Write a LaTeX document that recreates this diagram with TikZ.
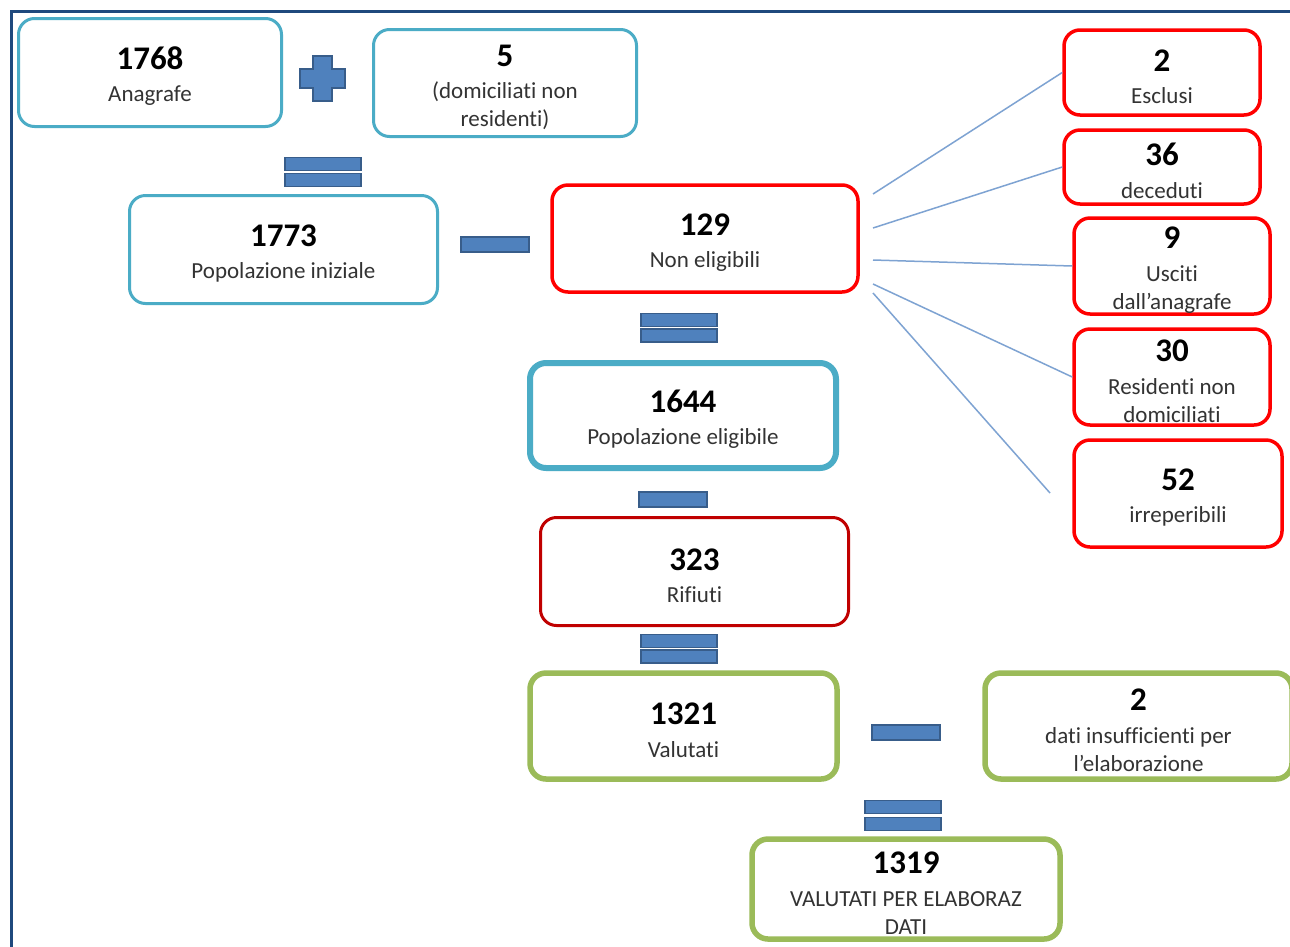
\documentclass[tikz,border=0pt]{standalone}
\usepackage{fontspec}
\setmainfont{Carlito}[Ligatures=NoCommon]
\usetikzlibrary{positioning}

\definecolor{boxcyan}{HTML}{4BACC6}
\definecolor{boxred}{HTML}{FF0000}
\definecolor{boxdarkred}{HTML}{C00000}
\definecolor{boxgreen}{HTML}{9BBB59}
\definecolor{opfill}{HTML}{4F81BD}
\definecolor{opedge}{HTML}{385D8A}
\definecolor{linkblue}{HTML}{7EA3D2}
\definecolor{framblue}{HTML}{1F497D}
\definecolor{labelgray}{HTML}{333333}

\newcommand{\nm}[1]{{\fontsize{33}{33}\selectfont\bfseries\color{black}\rule{0pt}{30pt}#1}\\[4.5pt]}

\begin{document}
\begin{tikzpicture}
    [
    x=1pt, y=-1pt,
    box/.style={draw, rounded corners=16pt, line width=3pt, fill=white, align=center,
        inner sep=0pt, text=labelgray, font=\fontsize{23}{28}\selectfont},
    cyanbox/.style={box, draw=boxcyan},
    redbox/.style={box, draw=boxred, line width=3.5pt},
    darkredbox/.style={box, draw=boxdarkred},
    greenbox/.style={box, draw=boxgreen, line width=5.5pt},
    opbar/.style={draw=opedge, fill=opfill, line width=1.2pt, inner sep=0pt,
        minimum width=76pt, minimum height=13pt},
    minusbar/.style={opbar, minimum width=68pt, minimum height=15pt},
    link/.style={draw=linkblue, line width=1.5pt}
    ]

    \fill[white] (0,0) rectangle (1290,946);
    \useasboundingbox (0,0) rectangle (1290,946);
    \draw[framblue, line width=3pt] (11.5,960) -- (11.5,11.5) -- (1300,11.5);

    % main column
    \node[cyanbox, minimum width=263pt, minimum height=108pt] (anag) at (150,72.5) {\nm{1768}Anagrafe};
    \node[cyanbox, minimum width=263pt, minimum height=107pt] (domic) at (505,83) {\nm{5}(domiciliati non\\residenti)};
    \node[cyanbox, minimum width=308pt, minimum height=108pt] (popini) at (283.5,249.5) {\nm{1773}Popolazione iniziale};
    \node[redbox, minimum width=306pt, minimum height=107pt] (noneli) at (705,238.5) {\nm{129}Non eligibili};
    \node[cyanbox, line width=6pt, minimum width=306pt, minimum height=105pt] (popeli) at (683,415.5) {\nm{1644}Popolazione eligibile};
    \node[darkredbox, minimum width=308pt, minimum height=108pt] (rifiuti) at (694.5,571.5) {\nm{323}Rifiuti};
    \node[greenbox, minimum width=307pt, minimum height=106pt] (valut) at (683.5,726) {\nm{1321}Valutati};
    \node[greenbox, minimum width=307pt, minimum height=106pt] (datins) at (1138.5,726) {\nm{2}dati insufficienti per\\l’elaborazione};
    \node[greenbox, minimum width=308pt, minimum height=100pt] (elab) at (906,889) {\nm{1319}VALUTATI PER ELABORAZ\\DATI};

    % non eligibili, detail
    \node[redbox, minimum width=196pt, minimum height=85pt] (escl) at (1162,72.5) {\nm{2}Esclusi};
    \node[redbox, minimum width=196pt, minimum height=74pt] (deced) at (1162,167) {\nm{36}deceduti};
    \node[redbox, minimum width=196pt, minimum height=96pt] (usciti) at (1172,266) {\nm{9}Usciti\\dall’anagrafe};
    \node[redbox, minimum width=196pt, minimum height=96pt] (resid) at (1172,377) {\nm{30}Residenti non\\domiciliati};
    \node[redbox, minimum width=208pt, minimum height=107pt] (irrep) at (1178,493.5) {\nm{52}irreperibili};

    % operators
    \draw[draw=opedge, fill=opfill, line width=1.2pt, shift={(322.5,78.5)}]
        (-9.5,-22.5) -- (9.5,-22.5) -- (9.5,-9.5) -- (22.5,-9.5) -- (22.5,9.5) -- (9.5,9.5)
        -- (9.5,22.5) -- (-9.5,22.5) -- (-9.5,9.5) -- (-22.5,9.5) -- (-22.5,-9.5) -- (-9.5,-9.5) -- cycle;
    \node[opbar] (eqa1) at (323,164) {};
    \node[opbar] (eqa2) at (323,180) {};
    \node[minusbar] (mina) at (495,244.5) {};
    \node[opbar] (eqb1) at (679,320) {};
    \node[opbar] (eqb2) at (679,335.5) {};
    \node[minusbar] (minb) at (673,499.5) {};
    \node[opbar] (eqc1) at (679,641) {};
    \node[opbar] (eqc2) at (679,656.5) {};
    \node[minusbar] (minc) at (906,732.5) {};
    \node[opbar] (eqd1) at (903,807) {};
    \node[opbar] (eqd2) at (903,824) {};

    % connectors
    \coordinate (s1) at (873,194);
    \coordinate (s2) at (873,228);
    \coordinate (s3) at (873,260);
    \coordinate (s4) at (873,284);
    \coordinate (s5) at (873,293);
    \coordinate (e5) at (1050,493);
    \draw[link] (s1) -- (escl.west);
    \draw[link] (s2) -- (deced.west);
    \draw[link] (s3) -- (usciti.west);
    \draw[link] (s4) -- (resid.west);
    \draw[link] (s5) -- (e5);
\end{tikzpicture}
\end{document}
